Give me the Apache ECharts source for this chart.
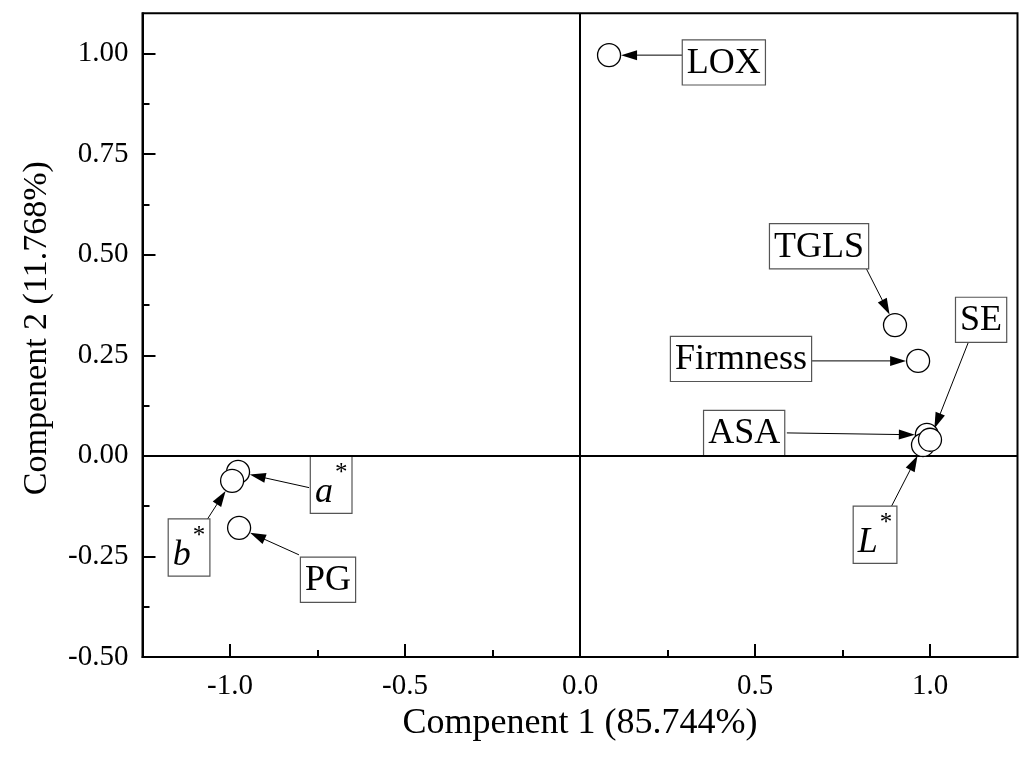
<!DOCTYPE html>
<html><head><meta charset="utf-8">
<script src="https://cdn.jsdelivr.net/npm/echarts@6/dist/echarts.min.js"></script>
<style>html,body{margin:0;padding:0;background:#fff}#c{width:1022px;height:758px}</style>
</head><body><div id="c"></div>
<script>
// ---- data ----
const names = ['LOX', 'TGLS', 'Firmness', 'ASA', 'L*', 'SE', 'a*', 'b*', 'PG'];
const comp1 = [0.083, 0.900, 0.966, 0.991, 0.980, 1.000, -0.977, -0.994, -0.974];
const comp2 = [0.996, 0.325, 0.236, 0.052, 0.027, 0.040, -0.040, -0.062, -0.179];
// annotation layout (data units): label box centre, arrow tail
const labelX = [0.411, 0.683, 0.460, 0.469, 0.843, 1.146, -0.711, -1.117, -0.720];
const labelY = [0.978, 0.521, 0.241, 0.057, -0.196, 0.338, -0.072, -0.228, -0.308];
const tailX  = [0.294, 0.817, 0.663, 0.591, 0.889, 1.109, -0.774, -1.071, -0.803];
const tailY  = [0.996, 0.467, 0.236, 0.057, -0.127, 0.281, -0.079, -0.166, -0.246];
// ticks
const xTicks = [-1.0, -0.5, 0.0, 0.5, 1.0];
const xMinor = [-0.75, -0.25, 0.25, 0.75];
const yTicks = [-0.5, -0.25, 0.0, 0.25, 0.5, 0.75, 1.0];
const yMinor = [-0.375, -0.125, 0.125, 0.375, 0.625, 0.875];
const xTitle = 'Compenent 1 (85.744%)';
const yTitle = 'Compenent 2 (11.768%)';

const FONT = 'Liberation Serif';
const richLabel = {
  n: { fontFamily: FONT, fontSize: 36, color: '#000', lineHeight: 38 },
  i: { fontFamily: FONT, fontSize: 36, fontStyle: 'italic', color: '#000', lineHeight: 50, verticalAlign: 'bottom' },
  s: { fontFamily: FONT, fontSize: 25, color: '#000', lineHeight: 50, verticalAlign: 'top', padding: [0, 0, 0, 2] }
};
function labelText(n) {
  if (n.endsWith('*')) return '{i|' + n.slice(0, -1) + '}{s|*}';
  return '{n|' + n + '}';
}

const annData = names.map((n, k) => [comp1[k], comp2[k], labelX[k], labelY[k], tailX[k], tailY[k]]);
const ptData = names.map((n, k) => ({ name: n, value: [comp1[k], comp2[k]] }));

const chart = echarts.init(document.getElementById('c'), null, { renderer: 'canvas' });
const gridPos = { left: 142.5, right: 4.5, top: 13.3, bottom: 101 };
const axisCommon = { color: '#000', fontFamily: FONT, fontSize: 29 };

chart.setOption({
  animation: false,
  backgroundColor: '#fff',
  grid: [
    Object.assign({ show: true, borderColor: '#000', borderWidth: 2, containLabel: false }, gridPos),
    Object.assign({ show: false, containLabel: false }, gridPos)
  ],
  xAxis: [
    {
      type: 'value', gridIndex: 0, min: -1.25, max: 1.25, position: 'bottom',
      axisLine: { show: true, onZero: false, lineStyle: { color: '#000', width: 2 } },
      axisTick: { show: true, inside: true, length: 13, customValues: xTicks, lineStyle: { color: '#000', width: 2 } },
      axisLabel: Object.assign({ customValues: xTicks, margin: 15, formatter: v => v.toFixed(1) }, axisCommon),
      splitLine: { show: false },
      name: xTitle, nameLocation: 'middle', nameGap: 46,
      nameTextStyle: { color: '#000', fontFamily: FONT, fontSize: 36 }
    },
    {
      type: 'value', gridIndex: 1, min: -1.25, max: 1.25, position: 'bottom',
      axisLine: { show: false, onZero: false },
      axisTick: { show: true, inside: true, length: 7, customValues: xMinor, lineStyle: { color: '#000', width: 2 } },
      axisLabel: { show: false }, splitLine: { show: false }
    }
  ],
  yAxis: [
    {
      type: 'value', gridIndex: 0, min: -0.5, max: 1.1, position: 'left',
      axisLine: { show: true, onZero: false, lineStyle: { color: '#000', width: 2 } },
      axisTick: { show: true, inside: true, length: 13, customValues: yTicks, lineStyle: { color: '#000', width: 2 } },
      axisLabel: Object.assign({ customValues: yTicks, margin: 14, formatter: v => v.toFixed(2) }, axisCommon),
      splitLine: { show: false },
      name: yTitle, nameLocation: 'middle', nameGap: 88, nameRotate: 90,
      nameTextStyle: { color: '#000', fontFamily: FONT, fontSize: 34, padding: [0, 0, 0, 14] }
    },
    {
      type: 'value', gridIndex: 1, min: -0.5, max: 1.1, position: 'left',
      axisLine: { show: false, onZero: false },
      axisTick: { show: true, inside: true, length: 7, customValues: yMinor, lineStyle: { color: '#000', width: 2 } },
      axisLabel: { show: false }, splitLine: { show: false }
    }
  ],
  series: [
    {
      type: 'custom', xAxisIndex: 0, yAxisIndex: 0, clip: false, silent: true, z: 3,
      data: annData,
      encode: { x: [0, 2, 4], y: [1, 3, 5] },
      renderItem: function (params, api) {
        const k = params.dataIndex;
        const p = api.coord([api.value(0), api.value(1)]);
        const b = api.coord([api.value(2), api.value(3)]);
        const t = api.coord([api.value(4), api.value(5)]);
        let dx = p[0] - t[0], dy = p[1] - t[1];
        const L = Math.hypot(dx, dy); dx /= L; dy /= L;
        const R = 12, H = 16, W = 5;
        const tip = [p[0] - dx * R, p[1] - dy * R];
        const base = [tip[0] - dx * H, tip[1] - dy * H];
        return {
          type: 'group',
          children: [
            { type: 'line', shape: { x1: t[0], y1: t[1], x2: base[0] + dx * 2, y2: base[1] + dy * 2 },
              style: { stroke: '#000', lineWidth: 1 } },
            { type: 'polygon', shape: { points: [tip, [base[0] - dy * W, base[1] + dx * W], [base[0] + dy * W, base[1] - dx * W]] },
              style: { fill: '#000' } },
            { type: 'text', x: b[0], y: b[1],
              style: {
                text: labelText(names[k]), rich: richLabel,
                fontFamily: FONT, fontSize: 36, fill: '#000',
                align: 'center', verticalAlign: 'middle',
                backgroundColor: '#fff', borderColor: '#555', borderWidth: 1.2,
                padding: [4, 4, 2, 4]
              } }
          ]
        };
      }
    },
    {
      type: 'scatter', xAxisIndex: 0, yAxisIndex: 0, z: 5, silent: true,
      data: ptData, symbol: 'circle', symbolSize: 23,
      itemStyle: { color: '#fff', borderColor: '#000', borderWidth: 1.3, opacity: 1 },
      markLine: {
        silent: true, symbol: 'none', label: { show: false },
        lineStyle: { color: '#000', width: 2, type: 'solid' },
        data: [{ xAxis: 0 }, { yAxis: 0 }]
      }
    }
  ]
});
</script></body></html>
